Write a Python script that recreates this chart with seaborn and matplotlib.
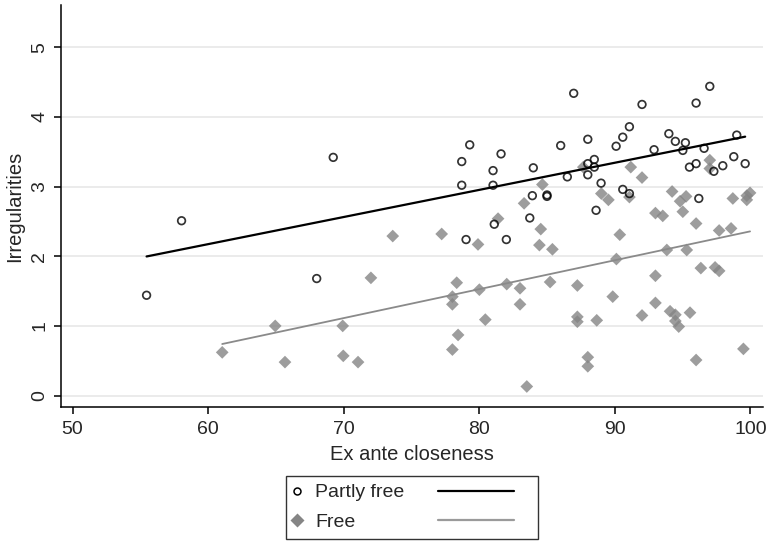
import pandas as pd
import seaborn as sns
import matplotlib.pyplot as plt
from matplotlib.lines import Line2D
from matplotlib.legend_handler import HandlerLine2D

# Partly free countries
pf_close = [55.46, 58.04, 69.23, 68.01,
            78.71, 78.71, 79.30, 79.03, 81.02, 81.02, 81.61, 81.11, 82.00,
            83.99, 83.92, 83.73, 85.00, 85.00, 86.01, 86.50, 86.97,
            88.01, 88.01, 88.01, 88.49, 88.49, 88.62, 88.99,
            90.10, 90.59, 91.08, 90.59, 91.08, 92.01, 92.90, 93.99, 94.47,
            95.02, 95.21, 95.51, 96.00, 96.00, 96.20, 96.59, 97.01,
            97.31, 97.97, 98.78, 99.00, 99.62]
pf_irreg = [1.44, 2.51, 3.42, 1.68,
            3.36, 3.02, 3.60, 2.24, 3.23, 3.02, 3.47, 2.46, 2.24,
            3.27, 2.87, 2.55, 2.88, 2.86, 3.59, 3.14, 4.34,
            3.68, 3.33, 3.17, 3.39, 3.28, 2.66, 3.05,
            3.58, 3.71, 3.86, 2.96, 2.90, 4.18, 3.53, 3.76, 3.65,
            3.52, 3.63, 3.28, 3.33, 4.20, 2.83, 3.55, 4.44,
            3.22, 3.30, 3.43, 3.74, 3.33]

# Free countries
fr_close = [61.04, 64.95, 65.67, 69.93, 69.97, 71.06, 72.01, 73.62,
            77.23, 79.91, 78.34, 78.02, 78.02, 78.44, 78.02,
            80.01, 80.45, 81.39, 82.03, 83.01, 83.01, 83.31, 83.51,
            84.66, 84.54, 84.44, 85.40, 85.23,
            87.24, 87.24, 87.24, 87.68, 88.01, 88.01, 88.67,
            89.01, 89.53, 89.85, 90.12, 90.37, 91.18, 91.08,
            92.01, 92.01, 93.00, 93.00, 93.00, 93.54, 94.23,
            93.84, 94.08, 94.47, 94.47, 94.72, 94.82, 95.02,
            95.26, 95.31, 95.55, 96.00, 96.00, 96.35, 97.01,
            97.01, 97.40, 97.70, 97.70, 98.58, 98.71, 99.49,
            99.74, 99.98, 99.74]
fr_irreg = [0.62, 1.00, 0.48, 1.00, 0.57, 0.48, 1.69, 2.29,
            2.32, 2.17, 1.62, 1.42, 1.31, 0.87, 0.66,
            1.52, 1.09, 2.54, 1.60, 1.54, 1.31, 2.76, 0.13,
            3.03, 2.39, 2.16, 2.10, 1.63,
            1.58, 1.13, 1.06, 3.28, 0.55, 0.42, 1.08,
            2.90, 2.81, 1.42, 1.96, 2.31, 3.28, 2.85,
            3.13, 1.15, 2.62, 1.72, 1.33, 2.58, 2.93,
            2.09, 1.21, 1.16, 1.07, 0.99, 2.79, 2.64,
            2.86, 2.09, 1.19, 2.47, 0.51, 1.83, 3.38,
            3.26, 1.84, 1.79, 2.37, 2.40, 2.83, 0.67,
            2.81, 2.91, 2.87]

x_ticks = [50, 60, 70, 80, 90, 100]
y_ticks = [0, 1, 2, 3, 4, 5]

pf = pd.DataFrame({'closeness': pf_close, 'irregularities': pf_irreg})
fr = pd.DataFrame({'closeness': fr_close, 'irregularities': fr_irreg})


class LongLine(HandlerLine2D):
    # legend line key that runs past its small handle box (Stata style)
    def __init__(self, length, **kw):
        super().__init__(**kw)
        self.length = length

    def create_artists(self, legend, orig_handle, xdescent, ydescent, width, height, fontsize, trans):
        return super().create_artists(legend, orig_handle, xdescent, ydescent,
                                      self.length * fontsize, height, fontsize, trans)


sns.set_style('white')
plt.rcParams['font.family'] = ['Liberation Sans', 'DejaVu Sans']

fig = plt.figure(figsize=(7.71, 5.41), dpi=100)
ax = fig.add_axes([0.079, 0.247, 0.91, 0.744])

grey = '#858585'
sns.regplot(data=fr, x='closeness', y='irregularities', ax=ax, ci=None,
            marker='D', scatter_kws=dict(s=42, color=grey, edgecolor='none', zorder=3),
            line_kws=dict(color='#8a8a8a', lw=1.3, zorder=4))
sns.regplot(data=pf, x='closeness', y='irregularities', ax=ax, ci=None,
            marker='o', scatter_kws=dict(s=30, facecolor='none', edgecolor='black',
                                         linewidths=1.25, zorder=5),
            line_kws=dict(color='black', lw=1.6, zorder=6))

ax.set_xlim(49.14, 100.9)
ax.set_ylim(-0.17, 5.61)
ax.set_xticks(x_ticks)
ax.set_yticks(y_ticks)
ax.set_yticklabels(y_ticks, rotation=90, va='center')
ax.yaxis.grid(True, color='#e6e6e6', lw=1.1)
ax.xaxis.grid(False)
ax.set_axisbelow(True)
sns.despine(ax=ax)
for s in ['left', 'bottom']:
    ax.spines[s].set_color('black')
    ax.spines[s].set_linewidth(1.1)
ax.tick_params(axis='both', direction='out', length=5, width=1.1, color='black',
               labelsize=14, bottom=True, left=True)
ax.tick_params(axis='x', pad=4.5)
ax.tick_params(axis='y', pad=4)
ax.set_xlabel('Ex ante closeness', fontsize=14.5, labelpad=5)
ax.set_ylabel('Irregularities', fontsize=14.5, labelpad=5)

pf_key = Line2D([], [], ls='none', marker='o', ms=5, mfc='none', mec='black', mew=1.1)
fr_key = Line2D([], [], ls='none', marker='D', ms=7, mfc=grey, mec='none')
pf_fit = Line2D([], [], color='black', lw=1.6)
fr_fit = Line2D([], [], color='#9a9a9a', lw=1.6)
blank = ' ' * 13
leg = fig.legend([pf_key, fr_key, pf_fit, fr_fit], ['Partly free', 'Free', blank, blank],
                 ncol=2, loc='lower center', bbox_to_anchor=(0.534, 0.004),
                 fontsize=14, frameon=True, fancybox=False, edgecolor='black',
                 handlelength=0.35, handletextpad=0.74, columnspacing=1.75,
                 labelspacing=0.6, borderpad=0.42, borderaxespad=0,
                 handler_map={pf_fit: LongLine(3.9), fr_fit: LongLine(3.9)})
leg.get_frame().set_linewidth(1.0)

fig.savefig('out.png', dpi=100)
